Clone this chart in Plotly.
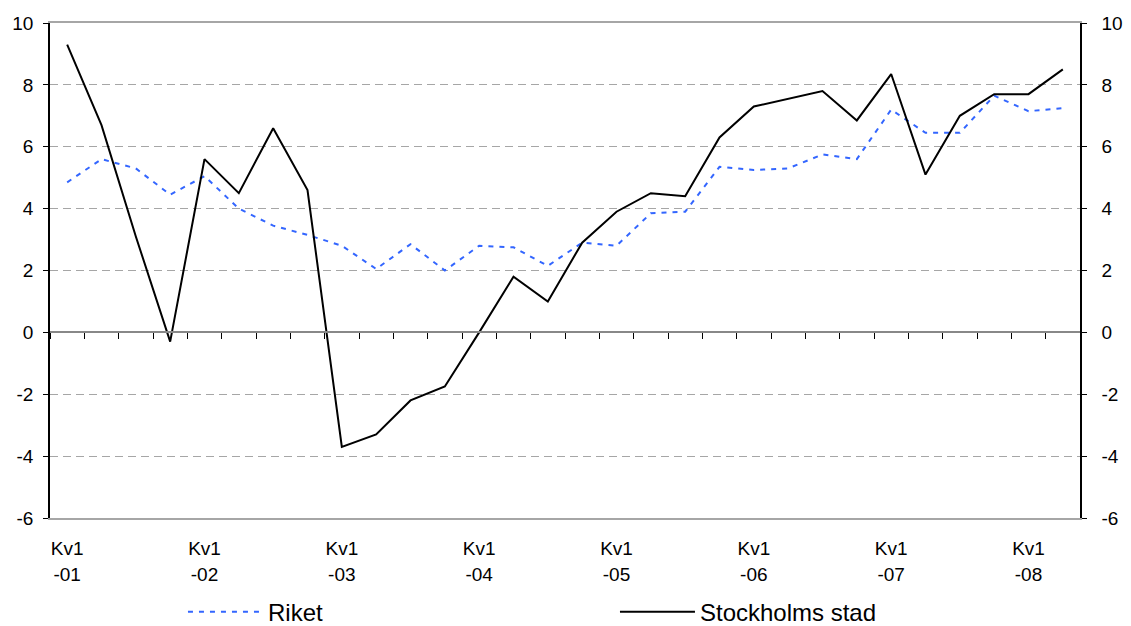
import plotly.graph_objects as go

quarters = list(range(30))  # Kv1-01 .. Kv2-08
tick_pos = [0, 4, 8, 12, 16, 20, 24, 28]
tick_top = ["Kv1"] * 8
tick_bottom = ["-01", "-02", "-03", "-04", "-05", "-06", "-07", "-08"]

riket = [4.85, 5.6, 5.3, 4.45, 5.05, 4.0, 3.45, 3.15, 2.8, 2.05,
         2.85, 2.0, 2.8, 2.75, 2.15, 2.9, 2.8, 3.85, 3.9, 5.35,
         5.25, 5.3, 5.75, 5.6, 7.2, 6.45, 6.45, 7.65, 7.15, 7.25]
stockholm = [9.3, 6.7, 3.1, -0.3, 5.6, 4.5, 6.6, 4.6, -3.7, -3.3,
             -2.2, -1.75, 0.0, 1.8, 1.0, 2.9, 3.9, 4.5, 4.4, 6.3,
             7.3, 7.55, 7.8, 6.85, 8.35, 5.1, 7.0, 7.7, 7.7, 8.5]

y_ticks = [-6, -4, -2, 0, 2, 4, 6, 8, 10]
y_labels = ["-6", "-4", "-2", "0", "2", "4", "6", "8", "10"]
boundaries = [q - 0.5 for q in quarters] + [quarters[-1] + 0.5]

FONT = "Liberation Sans, Arial, sans-serif"
GRID = "#a6a6a6"

fig = go.Figure()
fig.add_trace(go.Scatter(x=quarters, y=riket, mode="lines", name="Riket",
                         line=dict(color="#3366ff", width=2, dash="5px,6px")))
fig.add_trace(go.Scatter(x=quarters, y=stockholm, mode="lines", name="Stockholms stad",
                         line=dict(color="black", width=2)))
# helper (empty) traces so the extra axes render
fig.add_trace(go.Scatter(x=[None], y=[None], xaxis="x2", yaxis="y2",
                         showlegend=False, hoverinfo="skip"))
fig.add_trace(go.Scatter(x=[None], y=[None], xaxis="x3", yaxis="y",
                         showlegend=False, hoverinfo="skip"))

xr = [-0.5, 29.5]
fig.update_layout(
    width=1123, height=618,
    margin=dict(l=42, r=51, t=15, b=108, autoexpand=False),
    paper_bgcolor="white", plot_bgcolor="white",
    font=dict(family=FONT, size=19, color="black"),
    showlegend=True,
    legend=dict(orientation="h", xref="container", yref="container",
                x=0.1558, y=0.059, xanchor="left", yanchor="top",
                font=dict(size=24), itemwidth=75, entrywidth=342,
                traceorder="normal", bgcolor="rgba(0,0,0,0)"),
    xaxis=dict(range=xr, tickmode="array", tickvals=tick_pos, ticktext=tick_top,
               ticks="", showgrid=False, zeroline=False, automargin=False,
               showline=True, linecolor=GRID, linewidth=2, mirror=True,
               ticklabelstandoff=12, tickfont=dict(size=19)),
    xaxis2=dict(range=xr, overlaying="x", anchor="free", position=0.375,
                tickmode="array", tickvals=boundaries, showticklabels=False,
                ticks="outside", ticklen=6, tickcolor="black", tickwidth=1,
                showline=True, linecolor="#888888", linewidth=2, automargin=False,
                showgrid=False, zeroline=False),
    xaxis3=dict(range=xr, overlaying="x", anchor="y", side="bottom",
                tickmode="array", tickvals=tick_pos, ticktext=tick_bottom,
                ticks="", showline=False, showgrid=False, zeroline=False,
                automargin=False, ticklabelstandoff=43, tickfont=dict(size=19)),
    yaxis=dict(range=[-6, 10], tickmode="array", tickvals=y_ticks, ticktext=y_labels,
               ticks="outside", ticklen=5, tickcolor="black", automargin=False,
               showline=True, linecolor="black", linewidth=1.5,
               showgrid=True, gridcolor=GRID, griddash="8px,5px", gridwidth=1,
               zeroline=False, ticklabelstandoff=6, tickfont=dict(size=19)),
    yaxis2=dict(range=[-6, 10], tickmode="array", tickvals=y_ticks, ticktext=y_labels,
                overlaying="y", side="right", anchor="x", automargin=False,
                ticks="outside", ticklen=5, tickcolor="black",
                showline=True, linecolor="black", linewidth=1.5,
                showgrid=False, zeroline=False, ticklabelstandoff=11,
                tickfont=dict(size=19)),
)

fig.write_html("out.html")
